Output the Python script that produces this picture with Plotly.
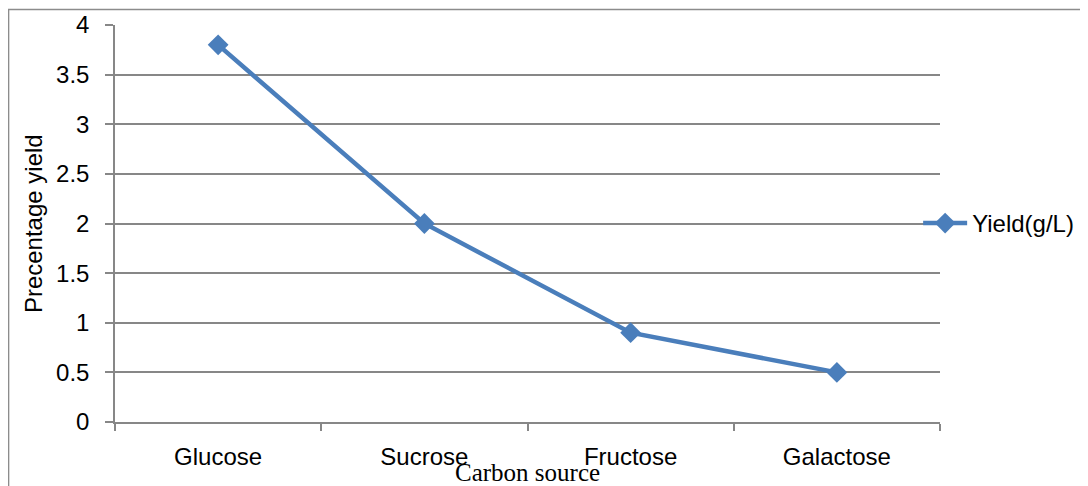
import plotly.graph_objects as go

categories = ["Glucose", "Sucrose", "Fructose", "Galactose"]
yield_values = [3.8, 2.0, 0.9, 0.5]
y_ticks = [0, 0.5, 1, 1.5, 2, 2.5, 3, 3.5, 4]
y_tick_labels = ["0", "0.5", "1", "1.5", "2", "2.5", "3", "3.5", "4"]

LINE_BLUE = "#4a7ebb"
GRID = "#878787"
TICK_FONT = dict(family="Liberation Sans, Arial, sans-serif", size=24, color="#000000")

fig = go.Figure()
fig.add_trace(go.Scatter(
    x=categories, y=yield_values, mode="lines+markers", name="Yield(g/L)",
    line=dict(color=LINE_BLUE, width=4.5),
    marker=dict(symbol="diamond", size=16, color=LINE_BLUE),
))

fig.update_layout(
    width=1088, height=486,
    margin=dict(l=107, r=156, t=17, b=72, autoexpand=False),
    paper_bgcolor="white", plot_bgcolor="white",
    showlegend=True,
    legend=dict(x=0.9735, y=0.5, xanchor="left", yanchor="middle",
                font=TICK_FONT, bgcolor="rgba(0,0,0,0)", borderwidth=0,
                itemwidth=44),
    xaxis=dict(
        type="category", range=[-0.5, 3.5], showgrid=False, automargin=False,
        showline=True, linecolor=GRID, linewidth=1.5,
        ticks="outside", tickson="boundaries", ticklen=7, tickcolor=GRID, tickwidth=1.5,
        tickfont=TICK_FONT, ticklabelstandoff=12,
    ),
    yaxis=dict(
        range=[0, 4], tickvals=y_ticks, ticktext=y_tick_labels, automargin=False,
        showgrid=True, gridcolor=GRID, gridwidth=1.5,
        showline=True, linecolor=GRID, linewidth=1.5,
        ticks="outside", ticklen=8, tickcolor=GRID, tickwidth=1.5,
        tickfont=TICK_FONT, ticklabelstandoff=11, zeroline=False,
    ),
    annotations=[
        dict(text="Carbon source", xref="paper", yref="paper", x=0.5006, y=-0.128,
             xanchor="center", yanchor="middle", showarrow=False,
             font=dict(family="Liberation Serif, Times New Roman, serif", size=25, color="#000000")),
        dict(text="Precentage yield", xref="paper", yref="paper", x=-0.0994, y=0.501,
             xanchor="center", yanchor="middle", showarrow=False, textangle=-90,
             font=TICK_FONT),
    ],
    shapes=[
        dict(type="rect", xref="paper", yref="paper",
             x0=-0.129, x1=1.25, y0=-0.25, y1=1.039,
             line=dict(color="#8c8c8c", width=1.5), fillcolor="rgba(0,0,0,0)", layer="below"),
    ],
)

fig.write_html("out.html")
